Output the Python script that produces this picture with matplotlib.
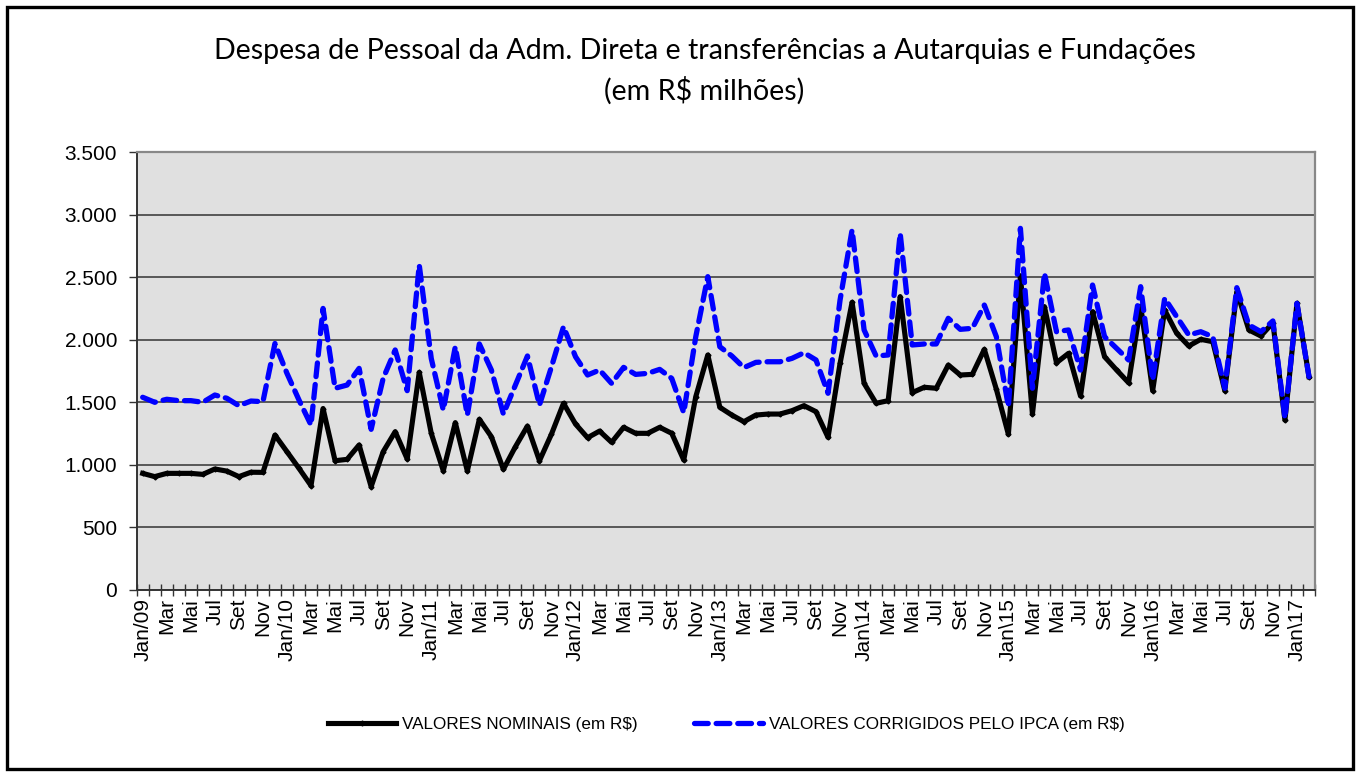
import matplotlib.pyplot as plt
from matplotlib.patches import Rectangle
from matplotlib.ticker import FuncFormatter

# meses de Jan/09 a Fev/17 (98 pontos)
nominais = [932, 906, 932, 932, 932, 924, 967, 950, 906, 941, 940, 1238,
            1105, 972, 834, 1450, 1033, 1044, 1159, 826, 1105, 1265, 1047, 1739,
            1252, 953, 1337, 951, 1364, 1225, 964, 1145, 1310, 1033, 1246, 1492,
            1326, 1217, 1270, 1180, 1300, 1252, 1252, 1300, 1252, 1039, 1545, 1878,
            1460, 1398, 1345, 1398, 1406, 1406, 1433, 1473, 1425, 1220, 1811, 2299,
            1651, 1492, 1513, 2344, 1577, 1620, 1612, 1798, 1718, 1723, 1923, 1604,
            1244, 2510, 1406, 2264, 1816, 1891, 1550, 2224, 1864, 1758, 1656, 2269,
            1593, 2237, 2051, 1950, 2003, 1984, 1593, 2384, 2078, 2030, 2136, 1358,
            2291, 1705]

corrigidos = [1540, 1500, 1524, 1513, 1513, 1500, 1558, 1532, 1473, 1510, 1505, 1970,
              1731, 1518, 1318, 2250, 1612, 1638, 1771, 1284, 1691, 1918, 1593, 2597,
              1850, 1438, 1944, 1398, 1966, 1758, 1406, 1638, 1870, 1478, 1784, 2104,
              1864, 1718, 1758, 1651, 1779, 1723, 1731, 1763, 1691, 1417, 2024, 2504,
              1944, 1870, 1777, 1819, 1824, 1824, 1851, 1896, 1838, 1572, 2317, 2877,
              2078, 1870, 1878, 2850, 1958, 1966, 1966, 2171, 2083, 2091, 2277, 2024,
              1465, 2890, 1612, 2531, 2064, 2078, 1758, 2437, 2024, 1931, 1838, 2424,
              1678, 2331, 2184, 2038, 2064, 2024, 1612, 2416, 2118, 2064, 2150, 1372,
              2291, 1705]

anos = ['Jan/09', 'Jan/10', 'Jan/11', 'Jan/12', 'Jan/13',
        'Jan\\14', 'Jan\\15', 'Jan\\16', 'Jan\\17']
meses_bimestrais = ['Mar', 'Mai', 'Jul', 'Set', 'Nov']

rotulos = []
for ano in anos:
    rotulos.append(ano)
    if ano != anos[-1]:
        rotulos.extend(meses_bimestrais)

x = list(range(len(nominais)))

fig = plt.figure(figsize=(13.6, 7.76), dpi=100)
fig.patch.set_facecolor('white')
fig.patches.append(Rectangle((0.0055, 0.009), 0.989, 0.982, transform=fig.transFigure,
                             fill=False, edgecolor='black', linewidth=2.4))

ax = fig.add_axes([0.1005, 0.2397, 0.8664, 0.5644])
ax.set_facecolor('#e0e0e0')

ax.plot(x, nominais, color='black', linewidth=3.7, marker='D', markersize=2.5,
        label='VALORES NOMINAIS (em R$)', zorder=3)
ax.plot(x, corrigidos, color='#0000ff', linewidth=3.8, linestyle=(0, (2.6, 1.5)),
        dash_capstyle='round', label='VALORES CORRIGIDOS PELO IPCA (em R$)', zorder=4)

ax.set_xlim(-0.5, len(x) - 0.5)
ax.set_ylim(0, 3500)
ax.set_yticks(range(0, 3501, 500))
ax.yaxis.set_major_formatter(FuncFormatter(lambda v, p: f'{int(v):,}'.replace(',', '.')))
ax.grid(axis='y', color='#333333', linewidth=1.1)
ax.set_axisbelow(True)

ax.set_xticks(range(0, len(x), 2))
ax.set_xticklabels(rotulos, rotation=90, fontsize=15, family='Liberation Sans')
ax.set_xticks([i - 0.5 for i in range(len(x) + 1)], minor=True)
ax.tick_params(axis='x', which='major', length=0, pad=6)
ax.tick_params(axis='x', which='minor', direction='inout', length=9, width=1, color='#333333')
ax.tick_params(axis='y', length=6, width=1, color='#333333', labelsize=15, pad=8)
for lbl in ax.get_yticklabels():
    lbl.set_family('Liberation Sans')

for s in ['top', 'right']:
    ax.spines[s].set_color('#888888')
    ax.spines[s].set_linewidth(1.6)
for s in ['left', 'bottom']:
    ax.spines[s].set_color('#333333')
    ax.spines[s].set_linewidth(1.4)

fig.text(0.518, 0.908, 'Despesa de Pessoal da Adm. Direta e transferências a Autarquias e Fundações\n(em R$ milhões)',
         ha='center', va='center', fontsize=20.6, family='Lato', linespacing=1.55)

fig.legend(loc='center', bbox_to_anchor=(0.534, 0.067), ncol=2, frameon=False,
           prop={'family': 'Liberation Sans', 'size': 12.3}, handlelength=4.0,
           handletextpad=0.35, columnspacing=3.3)

fig.savefig('out.png', dpi=100)
